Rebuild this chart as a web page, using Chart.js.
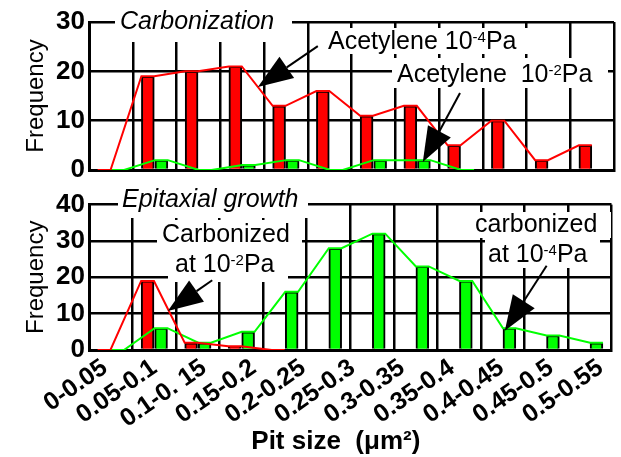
<!DOCTYPE html>
<html>
<head>
<meta charset="utf-8">
<script src="https://cdn.jsdelivr.net/npm/chart.js@4/dist/chart.umd.min.js"></script>
<style>
  html, body { margin: 0; padding: 0; background: #fff; }
  #wrap { position: relative; width: 621px; height: 457px; overflow: hidden; }
  #topBox { position: absolute; left: 0; top: 0; width: 621px; height: 190px; }
  #botBox { position: absolute; left: 0; top: 185px; width: 621px; height: 272px; }
</style>
</head>
<body>
<div id="wrap">
  <div id="topBox"><canvas id="topChart"></canvas></div>
  <div id="botBox"><canvas id="botChart"></canvas></div>
</div>
<script>
// 12 bins on the plot, 11 tick labels under the lower panel
const bins = ['b0','b1','b2','b3','b4','b5','b6','b7','b8','b9','b10','b11'];
const sizeLabels = ['0-0.05','0.05-0.1','0.1-0. 15','0.15-0.2','0.2-0.25','0.25-0.3',
                    '0.3-0.35','0.35-0.4','0.4-0.45','0.45-0.5','0.5-0.55'];

// Carbonization
const carbRed   = [0, 19, 20, 21, 13, 16, 11, 13, 5, 10, 2, 5];      // acetylene 10-4 Pa
const carbGreen = [0, 2, 0, 1, 2, 0, 2, 2, 0, null, null, null];     // acetylene 10-2 Pa
// Epitaxial growth
const epiRed   = [0, 19, 2, 1, 0, null, null, null, null, null, null, null]; // carbonized at 10-2 Pa
const epiGreen = [0, 6, 2, 5, 16, 28, 32, 23, 19, 6, 4, 2];               // carbonized at 10-4 Pa

const FONT = "'Liberation Sans', Arial, sans-serif";
const RED = '#ff0000';
const GREEN = '#00ff00';
const CAT_PCT = 0.62;
const BAR_PCT = 0.95;

// bar edges inside a bin, in bin units (the polygon runs over the bar tops)
const half = CAT_PCT / 4;
const barHalf = BAR_PCT * CAT_PCT / 4;
const redSide = [-half - barHalf, -half + barHalf];
const greenSide = [half - barHalf, half + barHalf];

function polygon(values, side) {
  const pts = [];
  values.forEach((v, i) => {
    if (v === null) return;
    pts.push({x: i + side[0], y: v}, {x: i + side[1], y: v});
  });
  return pts;
}

function binned(values) {
  return values.map((v, i) => ({x: i, y: v}));
}

function drawRich(ctx, n) {
  let x = n.x;
  ctx.fillStyle = '#000';
  ctx.textBaseline = 'middle';
  ctx.textAlign = 'left';
  n.parts.forEach(p => {
    const size = p.sup ? 15 : 25;
    ctx.font = (n.italic ? 'italic ' : '') + size + 'px ' + FONT;
    ctx.fillText(p.t, x, n.y + (p.sup ? -4 : 0));
    x += ctx.measureText(p.t).width;
  });
}

const notesPlugin = {
  id: 'notes',
  afterDraw(chart, args, opts) {
    const ctx = chart.ctx;
    const sx = chart.scales.xl, sy = chart.scales.y;
    ctx.save();
    ctx.fillStyle = '#fff';
    opts.boxes.forEach(b => ctx.fillRect(b[0], b[1], b[2] - b[0], b[3] - b[1]));
    opts.texts.forEach(n => drawRich(ctx, n));
    opts.arrows.forEach(a => {
      const tx = sx.getPixelForValue(a.tip[0]), ty = sy.getPixelForValue(a.tip[1]);
      const fx = sx.getPixelForValue(a.tail[0]), fy = sy.getPixelForValue(a.tail[1]);
      const len = Math.hypot(tx - fx, ty - fy);
      const ux = (tx - fx) / len, uy = (ty - fy) / len;
      const bx = tx - ux * 35, by = ty - uy * 35;
      ctx.strokeStyle = '#000';
      ctx.lineWidth = 2;
      ctx.beginPath();
      ctx.moveTo(fx, fy);
      ctx.lineTo(bx, by);
      ctx.stroke();
      ctx.fillStyle = '#000';
      ctx.beginPath();
      ctx.moveTo(tx, ty);
      ctx.lineTo(bx - uy * 13, by + ux * 13);
      ctx.lineTo(bx + uy * 13, by - ux * 13);
      ctx.closePath();
      ctx.fill();
    });
    ctx.restore();
  }
};

function makePanel(id, red, green, yMax, bottomAxisHeight, padTop, notes, withLabels) {
  const scales = {
    // grid only: one cell per bin
    x: {
      type: 'category',
      offset: true,
      weight: 0,
      grid: { offset: true, color: '#000', lineWidth: 2.5, drawTicks: false },
      border: { color: '#000', width: 3 },
      ticks: { display: false },
      afterFit: s => { s.height = withLabels ? 0 : bottomAxisHeight; }
    },
    // all datasets sit on this one, bin i centred on value i
    xl: { type: 'linear', display: false, offset: false, min: -0.5, max: 11.5 },
    y: {
      min: 0, max: yMax,
      ticks: { stepSize: 10, color: '#000', padding: 4,
               font: { family: FONT, size: 26, weight: 'bold' } },
      grid: { color: '#000', lineWidth: 2.5, drawTicks: false },
      border: { color: '#000', width: 3 },
      title: { display: true, text: 'Frequency', color: '#000',
               font: { family: FONT, size: 24 }, padding: { top: 22, bottom: 0 } },
      afterFit: s => { s.width = 89; }
    }
  };
  if (withLabels) {
    scales.xs = {
      type: 'linear',
      position: 'bottom',
      weight: 1,
      offset: false,
      min: -0.32, max: 10.22,
      grid: { display: false, drawTicks: false },
      border: { display: false },
      afterBuildTicks: s => { s.ticks = sizeLabels.map((_, i) => ({ value: i })); },
      ticks: {
        autoSkip: false, minRotation: 35, maxRotation: 35, padding: 3, color: '#000',
        font: { family: FONT, size: 25, weight: 'bold' },
        callback: v => sizeLabels[v]
      },
      title: { display: true, text: 'Pit size  (\u03bcm\u00b2)    ', color: '#000',
               font: { family: FONT, size: 26, weight: 'bold' }, padding: { top: 0, bottom: 0 } },
      afterFit: s => { s.height = bottomAxisHeight; }
    };
  }
  const barOpts = { xAxisID: 'xl', borderColor: '#000', borderWidth: 2, barThickness: 'flex',
                    categoryPercentage: CAT_PCT, barPercentage: BAR_PCT, order: 1 };
  return new Chart(document.getElementById(id), {
    data: {
      labels: bins,
      datasets: [
        { type: 'line', xAxisID: 'xl', data: polygon(red, redSide), borderColor: RED,
          borderWidth: 2, pointRadius: 0, order: 0 },
        { type: 'line', xAxisID: 'xl', data: polygon(green, greenSide), borderColor: GREEN,
          borderWidth: 2, pointRadius: 0, order: 0 },
        Object.assign({ type: 'bar', data: binned(red), backgroundColor: RED }, barOpts),
        Object.assign({ type: 'bar', data: binned(green), backgroundColor: GREEN }, barOpts)
      ]
    },
    options: {
      responsive: true,
      maintainAspectRatio: false,
      animation: false,
      layout: { padding: { top: padTop, right: 7, left: 0, bottom: 0 } },
      scales: scales,
      plugins: { legend: { display: false }, tooltip: { enabled: false }, notes: notes }
    },
    plugins: [notesPlugin]
  });
}

makePanel('topChart', carbRed, carbGreen, 30, 20, 22, {
  boxes: [[115, 4, 292, 42], [322, 28, 532, 54], [392, 58, 608, 88]],
  texts: [
    { x: 120, y: 22, italic: true, parts: [{ t: 'Carbonization' }] },
    { x: 328, y: 42, parts: [{ t: 'Acetylene 10' }, { t: '-4', sup: true }, { t: 'Pa' }] },
    { x: 397, y: 75, parts: [{ t: 'Acetylene  10' }, { t: '-2', sup: true }, { t: 'Pa' }] }
  ],
  arrows: [
    { tip: [3.36, 16.8], tail: [4.73, 25.1] },
    { tip: [7.13, 1.6], tail: [7.98, 15.6] }
  ]
}, false);

makePanel('botChart', epiRed, epiGreen, 40, 107, 15, {
  boxes: [[118, 0, 308, 33], [157, 35, 302, 65], [168, 65, 288, 97],
          [472, 27, 611, 53], [485, 53, 600, 83]],
  texts: [
    { x: 122, y: 15, italic: true, parts: [{ t: 'Epitaxial growth' }] },
    { x: 162, y: 50, parts: [{ t: 'Carbonized' }] },
    { x: 175, y: 80, parts: [{ t: 'at 10' }, { t: '-2', sup: true }, { t: 'Pa' }] },
    { x: 475, y: 40, parts: [{ t: 'carbonized' }] },
    { x: 488, y: 70, parts: [{ t: 'at 10' }, { t: '-4', sup: true }, { t: 'Pa' }] }
  ],
  arrows: [
    { tip: [1.31, 10.7], tail: [2.33, 19.2] },
    { tip: [9.05, 5.3], tail: [10.01, 23.2] }
  ]
}, true);
</script>
</body>
</html>
